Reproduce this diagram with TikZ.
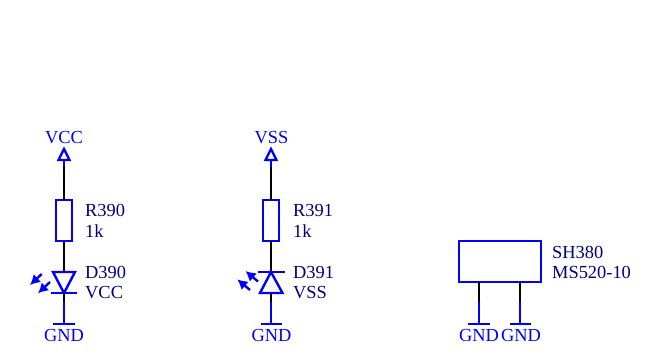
\documentclass[tikz,border=0pt]{standalone}
\usepackage{fontspec}
\setmainfont{Liberation Serif}
\usetikzlibrary{arrows, arrows.meta}
\usetikzlibrary{calc}
\definecolor{partblue}{HTML}{0000FF}
\definecolor{partnavy}{HTML}{000080}
\tikzset{
  partline/.style={draw=partblue, line width=2.4pt},
  wire/.style={draw=black, line width=2.2pt},
  partbox/.style={rectangle, partline, inner sep=0pt, outer sep=0pt},
  netlabel/.style={text=partblue, font=\fontsize{18.4}{20}\selectfont, inner sep=0pt, anchor=base},
  partlabel/.style={text=partnavy, font=\fontsize{18.4}{20}\selectfont, inner sep=0pt, anchor=base west},
  ledarrow/.style={partline, -{Latex[length=10pt, width=11pt]}}
}
\begin{document}
\begin{tikzpicture}[x=1pt, y=-1pt]
    \useasboundingbox (0,0) rectangle (654,360);

    % first LED branch
    \node[netlabel] (vcc) at (64,143) {VCC};
    \coordinate (vcctip) at (64,149);
    \coordinate (vccl) at (58.5,160);
    \coordinate (vccr) at (69.5,160);
    \coordinate (vccbase) at (64,160);
    \coordinate (vccstub) at (64,167);
    \node[partbox, minimum width=16pt, minimum height=41pt] (r390) at (64,220.5) {};
    \node[partlabel] (r390name) at (85,216) {R390};
    \node[partlabel] (r390val) at (85,237) {1k};
    \coordinate (d390top) at (64,272);
    \coordinate (d390l) at (53,272);
    \coordinate (d390r) at (75,272);
    \coordinate (d390tip) at (64,293);
    \coordinate (d390barl) at (51,293);
    \coordinate (d390barr) at (77,293);
    \coordinate (d390stub) at (64,302);
    \coordinate (gnd1) at (64,324);
    \coordinate (gnd1l) at (53,324);
    \coordinate (gnd1r) at (75,324);
    \node[partlabel] (d390name) at (85,278) {D390};
    \node[partlabel] (d390val) at (85,298.5) {VCC};
    \node[netlabel] (gnd1text) at (64,341) {GND};
    \coordinate (a1from) at (41.7,274);
    \coordinate (a1to) at (30,285);
    \coordinate (a2from) at (50,282);
    \coordinate (a2to) at (38,293.3);

    \draw[partline] (vcctip) -- (vccr) -- (vccl) -- cycle;
    \draw[partline] (vccbase) -- (vccstub);
    \draw[wire] (vccstub) -- (r390.north);
    \draw[wire] (r390.south) -- (d390top);
    \draw[partline] (d390l) -- (d390r) -- (d390tip) -- cycle;
    \draw[partline] (d390barl) -- (d390barr);
    \draw[wire] (d390tip) -- (d390stub);
    \draw[partline] (d390stub) -- (gnd1);
    \draw[partline] (gnd1l) -- (gnd1r);
    \draw[ledarrow] (a1from) -- (a1to);
    \draw[ledarrow] (a2from) -- (a2to);

    % second LED branch
    \node[netlabel] (vss) at (271.5,143) {VSS};
    \coordinate (vsstip) at (271,149);
    \coordinate (vssl) at (265.5,160);
    \coordinate (vssr) at (276.5,160);
    \coordinate (vssbase) at (271,160);
    \coordinate (vssstub) at (271,167);
    \node[partbox, minimum width=16pt, minimum height=41pt] (r391) at (271,220.5) {};
    \node[partlabel] (r391name) at (293,216) {R391};
    \node[partlabel] (r391val) at (293,237) {1k};
    \coordinate (d391top) at (271,272);
    \coordinate (d391barl) at (258,272);
    \coordinate (d391barr) at (284.5,272);
    \coordinate (d391l) at (260,293);
    \coordinate (d391r) at (282.5,293);
    \coordinate (d391base) at (271,293);
    \coordinate (d391stub) at (271,302);
    \coordinate (gnd2) at (271,324);
    \coordinate (gnd2l) at (260.5,324);
    \coordinate (gnd2r) at (282,324);
    \node[partlabel] (d391name) at (293,278) {D391};
    \node[partlabel] (d391val) at (293,298.5) {VSS};
    \node[netlabel] (gnd2text) at (271.5,341) {GND};
    \coordinate (a3from) at (258,281.5);
    \coordinate (a3to) at (245.5,271);
    \coordinate (a4from) at (250,290);
    \coordinate (a4to) at (237.3,279.3);

    \draw[partline] (vsstip) -- (vssr) -- (vssl) -- cycle;
    \draw[partline] (vssbase) -- (vssstub);
    \draw[wire] (vssstub) -- (r391.north);
    \draw[wire] (r391.south) -- (d391top);
    \draw[partline] (d391top) -- (d391r) -- (d391l) -- cycle;
    \draw[partline] (d391barl) -- (d391barr);
    \draw[wire] (d391base) -- (d391stub);
    \draw[partline] (d391stub) -- (gnd2);
    \draw[partline] (gnd2l) -- (gnd2r);
    \draw[ledarrow] (a3from) -- (a3to);
    \draw[ledarrow] (a4from) -- (a4to);

    % module with two ground pins
    \node[partbox, minimum width=82pt, minimum height=41pt] (sh380) at (500,261.5) {};
    \node[partlabel] (sh380name) at (552,258) {SH380};
    \node[partlabel] (sh380val) at (552,278) {MS520-10};
    \coordinate (pin1) at (479,282);
    \coordinate (pin1stub) at (479,302);
    \coordinate (gnd3) at (479,324);
    \coordinate (gnd3l) at (468,324);
    \coordinate (gnd3r) at (489.5,324);
    \coordinate (pin2) at (520,282);
    \coordinate (pin2stub) at (520,302);
    \coordinate (gnd4) at (520,324);
    \coordinate (gnd4l) at (509.5,324);
    \coordinate (gnd4r) at (531,324);
    \node[netlabel] (gnd3text) at (479,341) {GND};
    \node[netlabel] (gnd4text) at (521,341) {GND};

    \draw[wire] (pin1) -- (pin1stub);
    \draw[partline] (pin1stub) -- (gnd3);
    \draw[partline] (gnd3l) -- (gnd3r);
    \draw[wire] (pin2) -- (pin2stub);
    \draw[partline] (pin2stub) -- (gnd4);
    \draw[partline] (gnd4l) -- (gnd4r);
  \end{tikzpicture}
\end{document}
